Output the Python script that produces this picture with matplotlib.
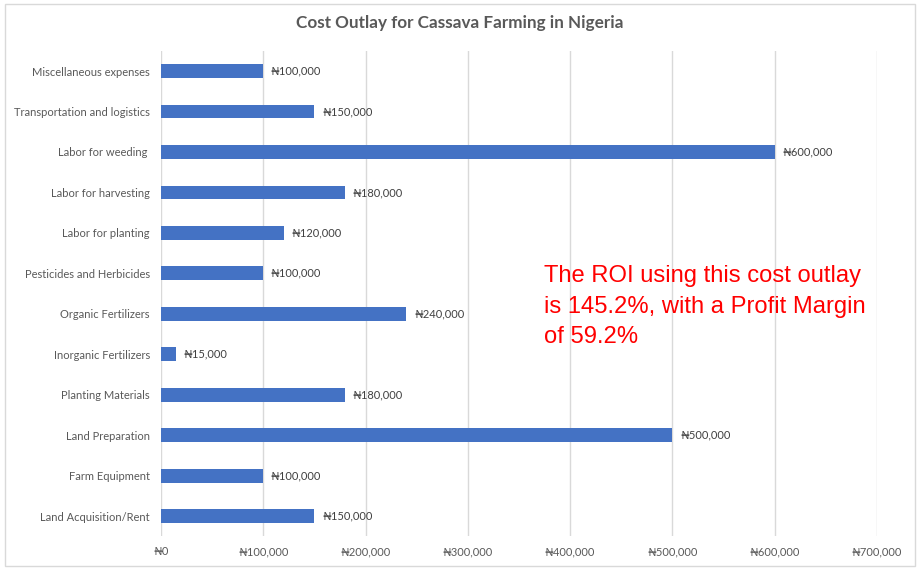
import matplotlib.pyplot as plt
from matplotlib.patches import Rectangle

# Data (bottom to top, as drawn)
categories = ['Land Acquisition/Rent', 'Farm Equipment', 'Land Preparation',
              'Planting Materials', 'Inorganic Fertilizers', 'Organic Fertilizers',
              'Pesticides and Herbicides', 'Labor for planting', 'Labor for harvesting',
              'Labor for weeding ', 'Transportation and logistics', 'Miscellaneous expenses']
costs = [150000, 100000, 500000, 180000, 15000, 240000,
         100000, 120000, 180000, 600000, 150000, 100000]
xticks = [0, 100000, 200000, 300000, 400000, 500000, 600000, 700000]

title_str = 'Cost Outlay for Cassava Farming in Nigeria'
note_str = 'The ROI using this cost outlay\nis 145.2%, with a Profit Margin\nof 59.2%'

fam = ['Lato', 'DejaVu Sans']
label_col = '#595959'

fig = plt.figure(figsize=(9.17, 5.70), dpi=100)
fig.patch.set_facecolor('white')

# chart border
fig.patches.append(Rectangle((5 / 917, 4 / 570), 910 / 917, 562 / 570,
                             transform=fig.transFigure, fill=False,
                             edgecolor='#d9d9d9', linewidth=1))

ax = fig.add_axes([161 / 917, 1 - 536.4 / 570, 716 / 917, (536.4 - 50.8) / 570])
y = range(len(categories))
ax.barh(y, costs, height=0.34, color='#4472C4', zorder=3)
ax.set_ylim(-0.5, len(categories) - 0.5)
ax.set_xlim(0, 700000)

ax.set_yticks(list(y))
ax.set_yticklabels(categories, fontsize=8, color=label_col, family=fam)
ax.set_xticks(xticks)
ax.set_xticklabels(['\u20a6' + format(v, ',') for v in xticks],
                   fontsize=8, color=label_col, family=fam)
ax.tick_params(length=0, pad=8)
ax.tick_params(axis='x', pad=7)
ax.grid(axis='x', color='#d9d9d9', linewidth=1, zorder=0)
for s in ax.spines.values():
    s.set_visible(False)

# data labels
for i, v in enumerate(costs):
    ax.annotate('\u20a6' + format(v, ','), (v, i), xytext=(5.5, 0),
                textcoords='offset points', va='center', ha='left',
                fontsize=8, color='#404040', family=fam)

fig.text(460 / 917, 1 - 23 / 570, title_str, ha='center', va='center',
         fontsize=12.3, fontweight='bold', color=label_col, family=fam)

fig.text(544 / 917, 1 - 265 / 570, note_str, ha='left', va='top',
         fontsize=17.1, color='#ff0000', family='Liberation Sans', linespacing=1.5)

plt.savefig('out.png', dpi=100)
